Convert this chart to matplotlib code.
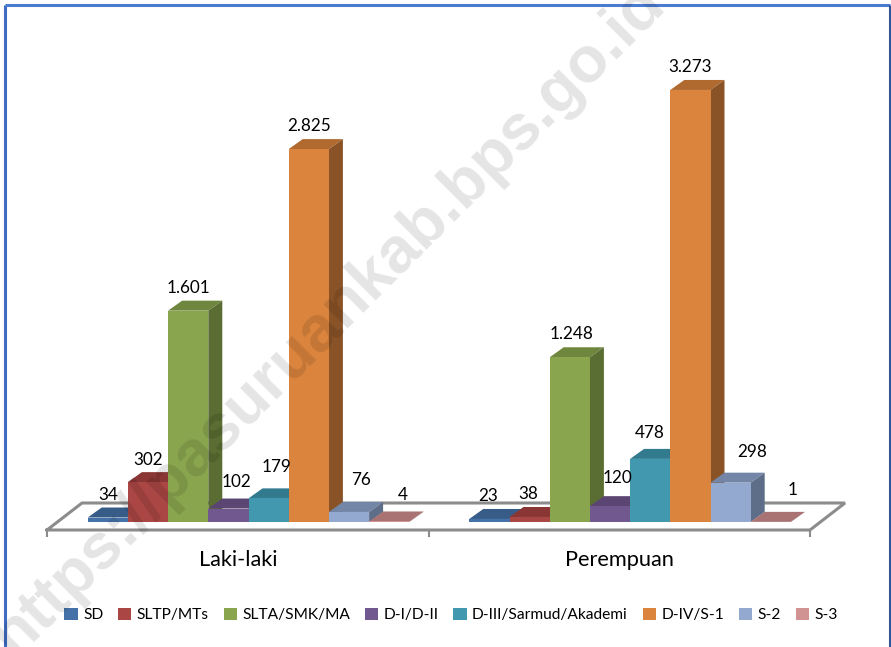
import numpy as np
import matplotlib
matplotlib.use('Agg')
import matplotlib.pyplot as plt
from matplotlib.patches import Patch

# Data
groups = ['Laki-laki', 'Perempuan']
education = ['SD', 'SLTP/MTs', 'SLTA/SMK/MA', 'D-I/D-II', 'D-III/Sarmud/Akademi', 'D-IV/S-1', 'S-2', 'S-3']
laki = [34, 302, 1601, 102, 179, 2825, 76, 4]
perempuan = [23, 38, 1248, 120, 478, 3273, 298, 1]
laki_labels = ['34', '302', '1.601', '102', '179', '2.825', '76', '4']
perempuan_labels = ['23', '38', '1.248', '120', '478', '3.273', '298', '1']

# Colours: front, top, side
front = ['#4472a8', '#aa4644', '#89a54e', '#71588f', '#4298af', '#db843d', '#93a9cf', '#d19392']
top = ['#375c88', '#8a3634', '#6f863e', '#5a4573', '#327a8e', '#b06a30', '#7486a8', '#a87372']
side = ['#2f4e74', '#74302d', '#5a6d32', '#4b3a60', '#2a6778', '#8a5327', '#5f6e88', '#8e5f5e']

# Label nudges in pixels, from the top back edge of each bar
laki_nudge = [(0, 5), (0, 4), (0, 5), (8, 9), (8, 13), (0, 5), (12, 14), (14, 8)]
perempuan_nudge = [(-1, 5), (-1, 5), (2, 5), (7, 10), (0, 8), (0, 5), (22, 13), (22, 14)]

# One group is 381.6 px wide, one unit of value is 0.132 px
W, H = 891, 647
px_x = 381.6
px_y = 0.132
x0 = 248.5
y0 = 522
bar_w = 40.2 / px_x
dx = 14 / px_x
dy = 10 / px_y


def to_x(px):
    return (px - x0) / px_x


def to_y(py):
    return (y0 - py) / px_y


plt.rcParams['font.family'] = 'Lato'

fig = plt.figure(figsize=(W / 100, H / 100), dpi=100)
ax = fig.add_axes([0, 0, 1, 1])
ax.set_xlim(to_x(0), to_x(W))
ax.set_ylim(to_y(H), to_y(0))
ax.axis('off')

# Chart frame
for xs, ys, c in [((5, 5), (647, 5), '#3f6cc0'), ((5, 890), (5, 5), '#4a7bd0'), ((890, 890), (5, 647), '#2f5597')]:
    ax.plot(to_x(np.array(xs)), to_y(np.array(ys)), color=c, lw=2.2, zorder=1, solid_capstyle='butt')

# Floor of the 3D chart
floor_x = to_x(np.array([47, 810, 845, 82, 47]))
floor_y = to_y(np.array([530, 530, 503, 503, 530]))
ax.fill(floor_x, floor_y, color='white', zorder=1)
ax.plot(floor_x, floor_y, color='#8c8c8c', lw=2.2, zorder=2, solid_joinstyle='miter')
for tick in [47, 428.5, 810]:
    ax.plot(to_x(np.array([tick, tick])), to_y(np.array([530, 536])), color='#8c8c8c', lw=1.5, zorder=2)

z = 3
for g, (vals, labels, nudge) in enumerate([(laki, laki_labels, laki_nudge),
                                           (perempuan, perempuan_labels, perempuan_nudge)]):
    for i, v in enumerate(vals):
        left = g + (i - 4) * bar_w
        right = left + bar_w
        ax.fill([left, right, right + dx, left + dx], [v, v, v + dy, v + dy], color=top[i], lw=0, zorder=z)
        ax.fill([right, right + dx, right + dx, right], [0, dy, v + dy, v], color=side[i], lw=0, zorder=z)
        ax.bar(left, v, width=bar_w, align='edge', color=front[i], lw=0, zorder=z + 1)
        z += 2
    for i, v in enumerate(vals):
        left = g + (i - 4) * bar_w
        ax.annotate(labels[i], (left + bar_w / 2, v + dy), xytext=nudge[i], textcoords='offset pixels',
                    ha='center', va='bottom', fontsize=12.3, color='black', zorder=100)
    ax.text(g - 10.5 / px_x, to_y(560), groups[g], ha='center', va='center', fontsize=15.7, color='black', zorder=100)

# Legend
handles = [Patch(facecolor=front[i], label=education[i]) for i in range(len(education))]
ax.legend(handles=handles, ncol=8, frameon=False, loc='center', bbox_to_anchor=(451 / W, 1 - 615 / H),
          fontsize=11.2, handlelength=0.85, handleheight=0.85, handletextpad=0.35, columnspacing=0.95,
          borderpad=0, borderaxespad=0)

# Watermark on top of everything
ax.text(to_x(329), to_y(320), 'https://pasuruankab.bps.go.id', rotation=45, rotation_mode='anchor',
        ha='center', va='center', fontsize=46.5, fontweight='bold', family='Liberation Sans',
        color='black', alpha=0.105, zorder=200)

fig.savefig('out.png', dpi=100)
